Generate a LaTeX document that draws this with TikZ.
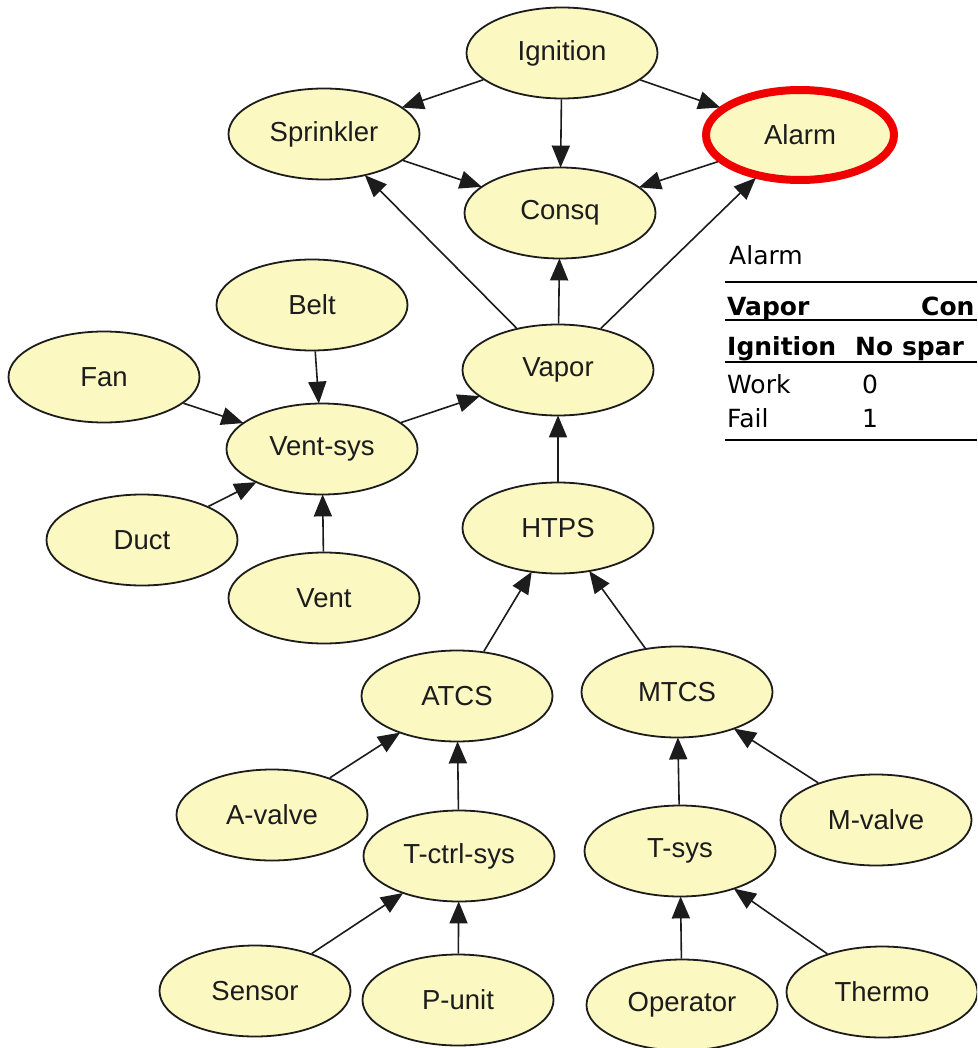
\documentclass[tikz,border=0pt]{standalone}
\usepackage{fontspec}
\setmainfont{Liberation Sans}
\newfontfamily\tabfont{DejaVu Sans}
\usetikzlibrary{shapes.geometric,arrows.meta}

\definecolor{nodefill}{RGB}{251,248,194}
\definecolor{inkdark}{RGB}{28,28,28}
\definecolor{alarmred}{RGB}{240,0,0}

\tikzset{
  var/.style={ellipse, draw=inkdark, line width=1.8pt, fill=nodefill,
    minimum width=191pt, minimum height=91pt, inner sep=0pt,
    text=inkdark, font=\fontsize{27.5}{30}\selectfont},
  hilite/.style={var, draw=alarmred, line width=8pt,
    minimum width=188pt, minimum height=90pt},
  edge/.style={draw=inkdark, line width=1.6pt,
    -{Triangle[length=22pt,width=18pt]}, shorten >=-1pt},
  cell/.style={anchor=base west, inner sep=0pt, text=black,
    font=\tabfont\fontsize{25}{28}\selectfont},
  headcell/.style={cell, font=\tabfont\bfseries\fontsize{25}{28}\selectfont},
  rulethick/.style={draw=black, line width=2.8pt},
  rulethin/.style={draw=black, line width=2pt}
}

\begin{document}
\begin{tikzpicture}[x=1pt, y=-1pt]
  \clip (0,0) rectangle (977,1048);
  \fill[white] (0,0) rectangle (977,1048);

  % consequence layer
  \node[var]    (ign)   at (562,53)   {Ignition};
  \node[var]    (spr)   at (324,134)  {Sprinkler};
  \node[hilite] (alm)   at (800,135)  {Alarm};
  \node[var]    (cons)  at (560,213)  {Consq};
  \node[var]    (vap)   at (558,370)  {Vapor};

  % ventilation subsystem
  \node[var]    (belt)  at (312,305)  {Belt};
  \node[var]    (fan)   at (104,377)  {Fan};
  \node[var]    (vsys)  at (322,449)  {Vent-sys};
  \node[var]    (duct)  at (142,540)  {Duct};
  \node[var]    (vent)  at (324,598)  {Vent};

  % heat transfer / temperature control
  \node[var]    (htps)  at (558,528)  {HTPS};
  \node[var]    (atcs)  at (457,696)  {ATCS};
  \node[var]    (mtcs)  at (677,692)  {MTCS};
  \node[var]    (aval)  at (272,815)  {A-valve};
  \node[var]    (tctrl) at (459,856)  {T-ctrl-sys};
  \node[var]    (tsys)  at (680,851)  {T-sys};
  \node[var]    (mval)  at (876,820)  {M-valve};
  \node[var]    (sens)  at (255,991)  {Sensor};
  \node[var]    (punit) at (458,1000) {P-unit};
  \node[var]    (oper)  at (682,1005) {Operator};
  \node[var]    (therm) at (882,992)  {Thermo};

  % dependencies
  \draw[edge] (ign) -- (spr);
  \draw[edge] (ign) -- (cons);
  \draw[edge] (ign) -- (alm);
  \draw[edge] (spr) -- (cons);
  \draw[edge] (alm) -- (cons);
  \draw[edge] (vap) -- (spr);
  \draw[edge] (vap) -- (cons);
  \draw[edge] (vap) -- (alm);
  \draw[edge] (belt) -- (vsys);
  \draw[edge] (fan) -- (vsys);
  \draw[edge] (duct) -- (vsys);
  \draw[edge] (vent) -- (vsys);
  \draw[edge] (vsys) -- (vap);
  \draw[edge] (htps) -- (vap);
  \draw[edge] (atcs) -- (htps);
  \draw[edge] (mtcs) -- (htps);
  \draw[edge] (aval) -- (atcs);
  \draw[edge] (tctrl) -- (atcs);
  \draw[edge] (sens) -- (tctrl);
  \draw[edge] (punit) -- (tctrl);
  \draw[edge] (tsys) -- (mtcs);
  \draw[edge] (mval) -- (mtcs);
  \draw[edge] (oper) -- (tsys);
  \draw[edge] (therm) -- (tsys);

  % conditional probability table of Alarm
  \node[cell]     (tabtitle) at (729,265) {Alarm};
  \draw[rulethick] (725,282) -- (977,282);
  \node[headcell] (hvap)  at (727,315) {Vapor};
  \node[headcell] (hcon)  at (921,315) {Con};
  \draw[rulethin]  (725,320) -- (977,320);
  \node[headcell] (hign)  at (727,355) {Ignition};
  \node[headcell] (hspar) at (855,355) {No spar};
  \draw[rulethin]  (725,362) -- (977,362);
  \node[cell]     (rwork) at (727,393) {Work};
  \node[cell]     (vzero) at (862,393) {0};
  \node[cell]     (rfail) at (727,427) {Fail};
  \node[cell]     (vone)  at (862,427) {1};
  \draw[rulethick] (725,440) -- (977,440);
\end{tikzpicture}
\end{document}
